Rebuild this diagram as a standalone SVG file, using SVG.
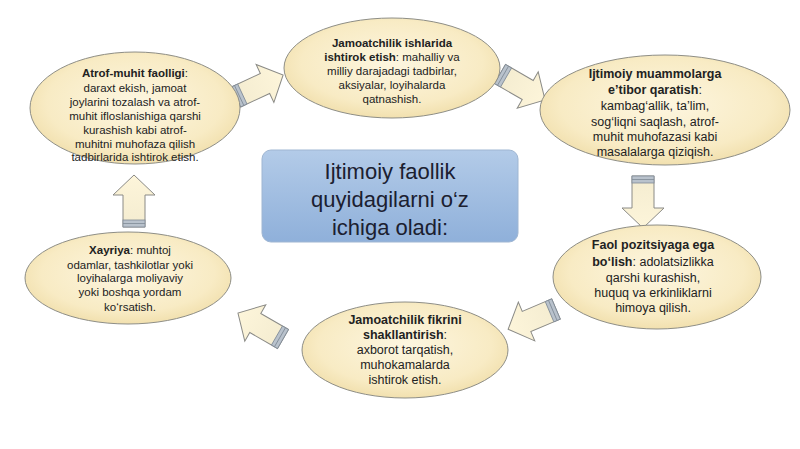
<svg xmlns="http://www.w3.org/2000/svg" width="800" height="449" viewBox="0 0 800 449">
<style>
.ell{fill:url(#eg);stroke:#8e8e86;stroke-width:1}
.t{font-family:"Liberation Sans",Arial,sans-serif;font-size:11.5px;fill:#222;text-anchor:middle}
.t2{font-family:"Liberation Sans",Arial,sans-serif;font-size:12.5px;fill:#222;text-anchor:middle}
.b{font-weight:bold}
.arr{fill:url(#ag);stroke:#8a8a86;stroke-width:1}
.band{fill:#b9c2cc;stroke:#7f8a96;stroke-width:0.8}
.ct{font-family:"Liberation Sans",Arial,sans-serif;font-size:22px;fill:#1b2030;text-anchor:middle}
</style>
<defs>
<radialGradient id="eg" cx="50%" cy="45%" r="60%">
<stop offset="0" stop-color="#fdf6e0"/>
<stop offset="0.7" stop-color="#f8ebc4"/>
<stop offset="1" stop-color="#efdca6"/>
</radialGradient>
<linearGradient id="ag" x1="0" y1="0" x2="1" y2="0">
<stop offset="0" stop-color="#f4ecd0"/>
<stop offset="1" stop-color="#fdf5da"/>
</linearGradient>
<linearGradient id="cg" x1="0" y1="0" x2="0" y2="1">
<stop offset="0" stop-color="#b3cbe8"/>
<stop offset="1" stop-color="#8fb0da"/>
</linearGradient>
<g id="arrow">
<path class="arr" d="M0,-11 L32,-11 L32,-21 L52,0 L32,21 L32,11 L0,11 Z"/>
<rect class="band" x="0" y="-11" width="7" height="22"/>
<line x1="3.5" y1="-11" x2="3.5" y2="11" stroke="#7f8a96" stroke-width="0.8"/>
</g>
</defs>
<rect width="800" height="449" fill="#ffffff"/>
<g id="connectors">
<use href="#arrow" transform="translate(236,97) rotate(-25)"/>
<use href="#arrow" transform="translate(500,74) rotate(30)"/>
<use href="#arrow" transform="translate(643,176) rotate(90)"/>
<use href="#arrow" transform="translate(556,309) rotate(157)"/>
<use href="#arrow" transform="translate(283,339) rotate(210)"/>
<use href="#arrow" transform="translate(134,227) rotate(-90)"/>
</g>
<g id="center">
<rect x="262" y="150" width="256" height="92" rx="9" fill="url(#cg)" stroke="#9fb6d2" stroke-width="1"/>
<text class="ct" x="390" y="179">Ijtimoiy faollik</text>
<text class="ct" x="390" y="207">quyidagilarni o‘z</text>
<text class="ct" x="390" y="235">ichiga oladi:</text>
</g>
<g id="n1">
<ellipse class="ell" cx="135" cy="108" rx="105" ry="56"/>
<text class="t" x="135" y="77"><tspan class="b">Atrof-muhit faolligi</tspan>:</text>
<text class="t" x="135" y="92">daraxt ekish, jamoat</text>
<text class="t" x="135" y="106">joylarini tozalash va atrof-</text>
<text class="t" x="135" y="120">muhit ifloslanishiga qarshi</text>
<text class="t" x="135" y="134">kurashish kabi atrof-</text>
<text class="t" x="135" y="148">muhitni muhofaza qilish</text>
<text class="t" x="135" y="161">tadbirlarida ishtirok etish.</text>
</g>
<g id="n2">
<ellipse class="ell" cx="392" cy="68" rx="108" ry="50"/>
<text class="t" x="392" y="47"><tspan class="b">Jamoatchilik ishlarida</tspan></text>
<text class="t" x="392" y="61"><tspan class="b">ishtirok etish</tspan>: mahalliy va</text>
<text class="t" x="392" y="75">milliy darajadagi tadbirlar,</text>
<text class="t" x="392" y="89">aksiyalar, loyihalarda</text>
<text class="t" x="392" y="103">qatnashish.</text>
</g>
<g id="n3">
<ellipse class="ell" cx="665" cy="110" rx="125" ry="55"/>
<text class="t2" x="655" y="78"><tspan class="b">Ijtimoiy muammolarga</tspan></text>
<text class="t2" x="655" y="94"><tspan class="b">e’tibor qaratish</tspan>:</text>
<text class="t2" x="655" y="110">kambag‘allik, ta’lim,</text>
<text class="t2" x="655" y="126">sog‘liqni saqlash, atrof-</text>
<text class="t2" x="655" y="141">muhit muhofazasi kabi</text>
<text class="t2" x="655" y="156">masalalarga qiziqish.</text>
</g>
<g id="n4">
<ellipse class="ell" cx="657" cy="277" rx="104" ry="52"/>
<text class="t2" x="653" y="249"><tspan class="b">Faol pozitsiyaga ega</tspan></text>
<text class="t2" x="653" y="266"><tspan class="b">bo‘lish</tspan>: adolatsizlikka</text>
<text class="t2" x="653" y="282">qarshi kurashish,</text>
<text class="t2" x="653" y="297">huquq va erkinliklarni</text>
<text class="t2" x="653" y="312">himoya qilish.</text>
</g>
<g id="n5">
<ellipse class="ell" cx="405" cy="350" rx="103" ry="48"/>
<text class="t2" x="405" y="324"><tspan class="b">Jamoatchilik fikrini</tspan></text>
<text class="t2" x="405" y="339"><tspan class="b">shakllantirish</tspan>:</text>
<text class="t2" x="405" y="354">axborot tarqatish,</text>
<text class="t2" x="405" y="369">muhokamalarda</text>
<text class="t2" x="405" y="384">ishtirok etish.</text>
</g>
<g id="n6">
<ellipse class="ell" cx="128" cy="278" rx="103" ry="46"/>
<text class="t" x="130" y="254"><tspan class="b">Xayriya</tspan>: muhtoj</text>
<text class="t" x="130" y="269">odamlar, tashkilotlar yoki</text>
<text class="t" x="130" y="282">loyihalarga moliyaviy</text>
<text class="t" x="130" y="296">yoki boshqa yordam</text>
<text class="t" x="130" y="311">ko‘rsatish.</text>
</g>
</svg>
